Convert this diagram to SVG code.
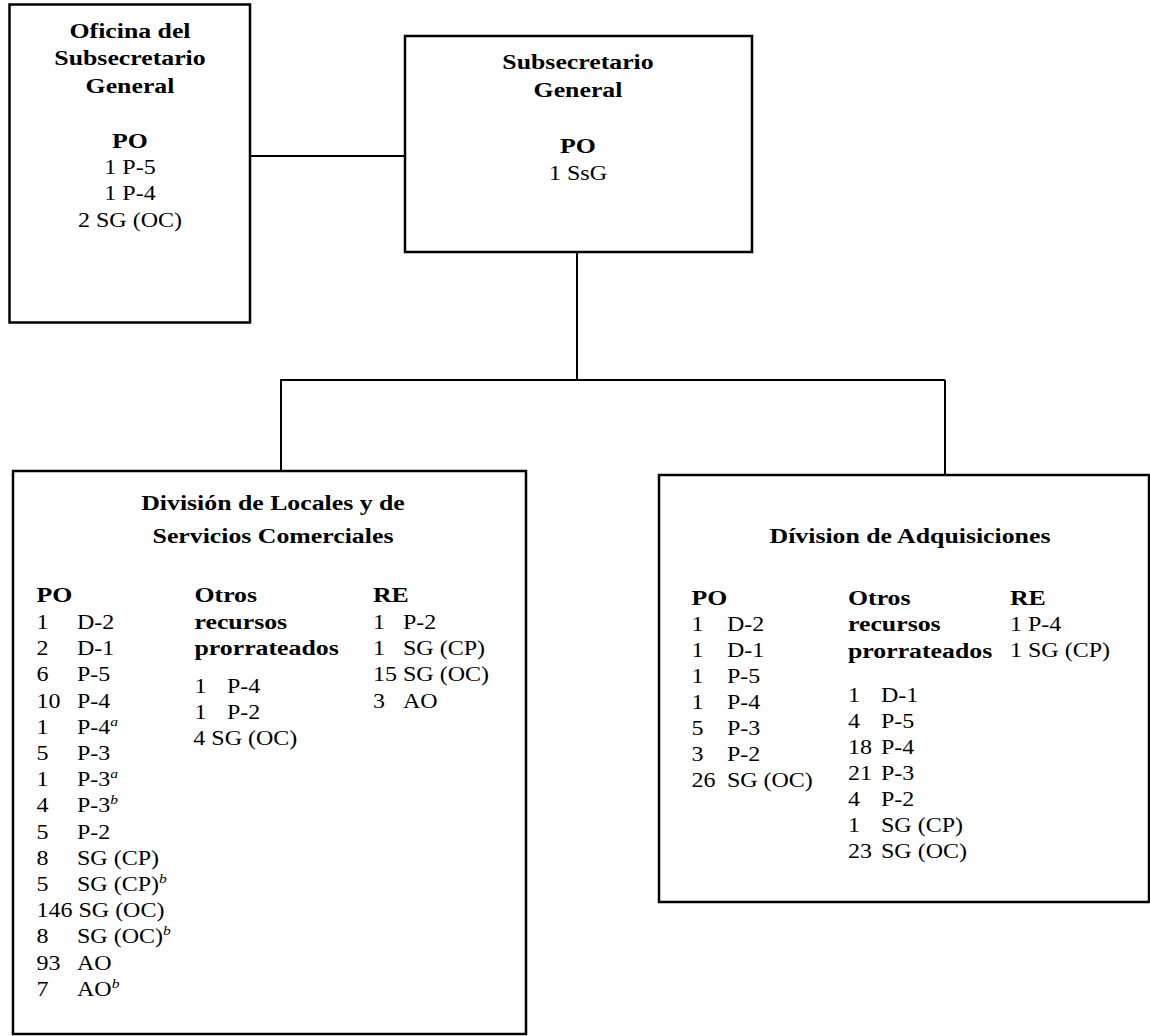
<svg xmlns="http://www.w3.org/2000/svg" width="1150" height="1036" viewBox="0 0 1150 1036">
<style>
.box{fill:#fff;stroke:#000;stroke-width:2.5}
.con line{stroke:#000;stroke-width:2}
text{font-family:"Liberation Serif","Times New Roman",serif;fill:#000}
.b{font-weight:bold;font-size:21.5px}
.r{font-size:20px}
.c{text-anchor:middle}
.sup{font-size:13px;font-style:italic}
</style>
<rect width="1150" height="1036" fill="#fff"/>
<g id="connectors" class="con">
<line x1="250" y1="156" x2="405" y2="156"/>
<line x1="577" y1="252" x2="577" y2="380"/>
<line x1="280" y1="380" x2="945" y2="380"/>
<line x1="281" y1="380" x2="281" y2="471"/>
<line x1="945" y1="380" x2="945" y2="475"/>
</g>
<g id="oficina">
<rect class="box" x="9.5" y="4.5" width="240.5" height="318"/>
<g transform="translate(130,0) scale(1.2,1)" class="c">
<text class="b" x="0" y="38">Oficina del</text>
<text class="b" x="0" y="65">Subsecretario</text>
<text class="b" x="0" y="93">General</text>
<text class="b" x="0" y="148">PO</text>
<text class="r" x="0" y="174">1 P-5</text>
<text class="r" x="0" y="200">1 P-4</text>
<text class="r" x="0" y="227">2 SG (OC)</text>
</g>
</g>
<g id="subsecretario">
<rect class="box" x="405" y="36" width="347" height="216"/>
<g transform="translate(578,0) scale(1.2,1)" class="c">
<text class="b" x="0" y="69">Subsecretario</text>
<text class="b" x="0" y="97">General</text>
<text class="b" x="0" y="153">PO</text>
<text class="r" x="0" y="180">1 SsG</text>
</g>
</g>
<g id="locales">
<rect class="box" x="13" y="471" width="513" height="563"/>
<g transform="translate(273,0) scale(1.2,1)" class="c">
<text class="b" x="0" y="510">División de Locales y de</text>
<text class="b" x="0" y="543">Servicios Comerciales</text>
</g>
<g transform="translate(36.5,0) scale(1.2,1)">
<text class="b" x="0" y="602">PO</text>
<text class="r" x="0" y="629">1</text><text class="r" x="33.75" y="629">D-2</text>
<text class="r" x="0" y="655.2">2</text><text class="r" x="33.75" y="655.2">D-1</text>
<text class="r" x="0" y="681.4">6</text><text class="r" x="33.75" y="681.4">P-5</text>
<text class="r" x="0" y="707.6">10</text><text class="r" x="33.75" y="707.6">P-4</text>
<text class="r" x="0" y="733.8">1</text><text class="r" x="33.75" y="733.8">P-4<tspan class="sup" dy="-8">a</tspan></text>
<text class="r" x="0" y="760">5</text><text class="r" x="33.75" y="760">P-3</text>
<text class="r" x="0" y="786.2">1</text><text class="r" x="33.75" y="786.2">P-3<tspan class="sup" dy="-8">a</tspan></text>
<text class="r" x="0" y="812.4">4</text><text class="r" x="33.75" y="812.4">P-3<tspan class="sup" dy="-8">b</tspan></text>
<text class="r" x="0" y="838.6">5</text><text class="r" x="33.75" y="838.6">P-2</text>
<text class="r" x="0" y="864.8">8</text><text class="r" x="33.75" y="864.8">SG (CP)</text>
<text class="r" x="0" y="891">5</text><text class="r" x="33.75" y="891">SG (CP)<tspan class="sup" dy="-8">b</tspan></text>
<text class="r" x="0" y="917.2">146 SG (OC)</text>
<text class="r" x="0" y="943.4">8</text><text class="r" x="33.75" y="943.4">SG (OC)<tspan class="sup" dy="-8">b</tspan></text>
<text class="r" x="0" y="969.6">93</text><text class="r" x="33.75" y="969.6">AO</text>
<text class="r" x="0" y="995.8">7</text><text class="r" x="33.75" y="995.8">AO<tspan class="sup" dy="-8">b</tspan></text>
</g>
<g transform="translate(194.5,0) scale(1.2,1)">
<text class="b" x="0" y="602">Otros</text>
<text class="b" x="0" y="629">recursos</text>
<text class="b" x="0" y="655.2">prorrateados</text>
<text class="r" x="0" y="693">1</text><text class="r" x="27" y="693">P-4</text>
<text class="r" x="0" y="719">1</text><text class="r" x="27" y="719">P-2</text>
<text class="r" x="-1" y="745">4 SG (OC)</text>
</g>
<g transform="translate(373,0) scale(1.2,1)">
<text class="b" x="0" y="602">RE</text>
<text class="r" x="0" y="629">1</text><text class="r" x="25" y="629">P-2</text>
<text class="r" x="0" y="655.2">1</text><text class="r" x="25" y="655.2">SG (CP)</text>
<text class="r" x="0" y="681.4">15 SG (OC)</text>
<text class="r" x="0" y="707.6">3</text><text class="r" x="25" y="707.6">AO</text>
</g>
</g>
<g id="adquisiciones">
<rect class="box" x="659" y="475" width="490" height="427"/>
<g transform="translate(910,0) scale(1.2,1)" class="c">
<text class="b" x="0" y="543">Dívision de Adquisiciones</text>
</g>
<g transform="translate(691.5,0) scale(1.2,1)">
<text class="b" x="0" y="605">PO</text>
<text class="r" x="0" y="631">1</text><text class="r" x="29.5" y="631">D-2</text>
<text class="r" x="0" y="657">1</text><text class="r" x="29.5" y="657">D-1</text>
<text class="r" x="0" y="683">1</text><text class="r" x="29.5" y="683">P-5</text>
<text class="r" x="0" y="709">1</text><text class="r" x="29.5" y="709">P-4</text>
<text class="r" x="0" y="735">5</text><text class="r" x="29.5" y="735">P-3</text>
<text class="r" x="0" y="761">3</text><text class="r" x="29.5" y="761">P-2</text>
<text class="r" x="0" y="787">26</text><text class="r" x="29.5" y="787">SG (OC)</text>
</g>
<g transform="translate(848,0) scale(1.2,1)">
<text class="b" x="0" y="605">Otros</text>
<text class="b" x="0" y="631">recursos</text>
<text class="b" x="0" y="658">prorrateados</text>
<text class="r" x="0" y="702">1</text><text class="r" x="27.5" y="702">D-1</text>
<text class="r" x="0" y="728">4</text><text class="r" x="27.5" y="728">P-5</text>
<text class="r" x="0" y="754">18</text><text class="r" x="27.5" y="754">P-4</text>
<text class="r" x="0" y="780">21</text><text class="r" x="27.5" y="780">P-3</text>
<text class="r" x="0" y="806">4</text><text class="r" x="27.5" y="806">P-2</text>
<text class="r" x="0" y="832">1</text><text class="r" x="27.5" y="832">SG (CP)</text>
<text class="r" x="0" y="858">23</text><text class="r" x="27.5" y="858">SG (OC)</text>
</g>
<g transform="translate(1010,0) scale(1.2,1)">
<text class="b" x="0" y="605">RE</text>
<text class="r" x="0" y="631">1 P-4</text>
<text class="r" x="0" y="657">1 SG (CP)</text>
</g>
</g>
</svg>
